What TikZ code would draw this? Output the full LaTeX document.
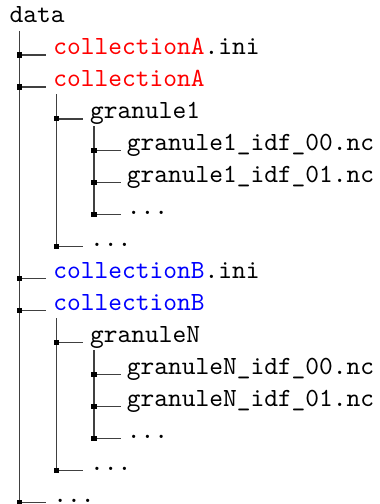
\documentclass[tikz,border=0pt]{standalone}
\usetikzlibrary{calc}
\definecolor{cred}{RGB}{255,0,0}
\definecolor{cblue}{RGB}{0,0,255}
\begin{document}
\begin{tikzpicture}[x=0.382pt,y=-0.382pt,
  lbl/.style={anchor=base west,inner sep=0pt,font=\fontsize{10}{12}\selectfont\ttfamily},
  junc/.style={fill=black,inner sep=0pt,minimum size=2pt,shape=rectangle},
  branch/.style={draw=black!75,line width=0.5pt}]
\useasboundingbox (0,0) rectangle (379,504);
% baselines: y_i = 23 + 31.95 i
\def\xa{19.5}\def\xb{56.8}\def\xc{94.1}
\def\ta{52.9}\def\tb{89.6}\def\tc{126.3}
% text nodes
\node[lbl] (r0) at (9,23) {data};
\node[lbl] (r1) at (\ta,54.95) {\textcolor{cred}{collectionA}.ini};
\node[lbl] (r2) at (\ta,86.9) {\textcolor{cred}{collectionA}};
\node[lbl] (r3) at (\tb,118.85) {granule1};
\node[lbl] (r4) at (\tc,150.8) {granule1\_idf\_00.nc};
\node[lbl] (r5) at (\tc,182.75) {granule1\_idf\_01.nc};
\node[lbl] (r6) at (\tc,214.7) {...};
\node[lbl] (r7) at (\tb,246.65) {...};
\node[lbl] (r8) at (\ta,278.6) {\textcolor{cblue}{collectionB}.ini};
\node[lbl] (r9) at (\ta,310.55) {\textcolor{cblue}{collectionB}};
\node[lbl] (r10) at (\tb,342.5) {granuleN};
\node[lbl] (r11) at (\tc,374.45) {granuleN\_idf\_00.nc};
\node[lbl] (r12) at (\tc,406.4) {granuleN\_idf\_01.nc};
\node[lbl] (r13) at (\tc,438.35) {...};
\node[lbl] (r14) at (\tb,470.3) {...};
\node[lbl] (r15) at (\ta,502.25) {...};
% vertical line tops
\coordinate (t0) at (\xa,31);
\coordinate (t2) at (\xb,94.4);
\coordinate (t3) at (\xc,126.4);
\coordinate (t9) at (\xb,318);
\coordinate (t10) at (\xc,350);
% junctions
\coordinate (j1) at (\xa,54.95);
\coordinate (j2) at (\xa,86.9);
\coordinate (j3) at (\xb,118.85);
\coordinate (j4) at (\xc,150.8);
\coordinate (j5) at (\xc,182.75);
\coordinate (j6) at (\xc,214.7);
\coordinate (j7) at (\xb,246.65);
\coordinate (j8) at (\xa,278.6);
\coordinate (j9) at (\xa,310.55);
\coordinate (j10) at (\xb,342.5);
\coordinate (j11) at (\xc,374.45);
\coordinate (j12) at (\xc,406.4);
\coordinate (j13) at (\xc,438.35);
\coordinate (j14) at (\xb,470.3);
\coordinate (j15) at (\xa,502.25);
% vertical lines
\draw[branch] (t0) -- (j15);
\draw[branch] (t2) -- (j7);
\draw[branch] (t3) -- (j6);
\draw[branch] (t9) -- (j14);
\draw[branch] (t10) -- (j13);
% horizontal branches and junction squares
\foreach \i in {1,...,15}{
  \draw[branch] (j\i) -- ++(26.5,0);
  \node[junc] at (j\i) {};
}
\end{tikzpicture}
\end{document}
